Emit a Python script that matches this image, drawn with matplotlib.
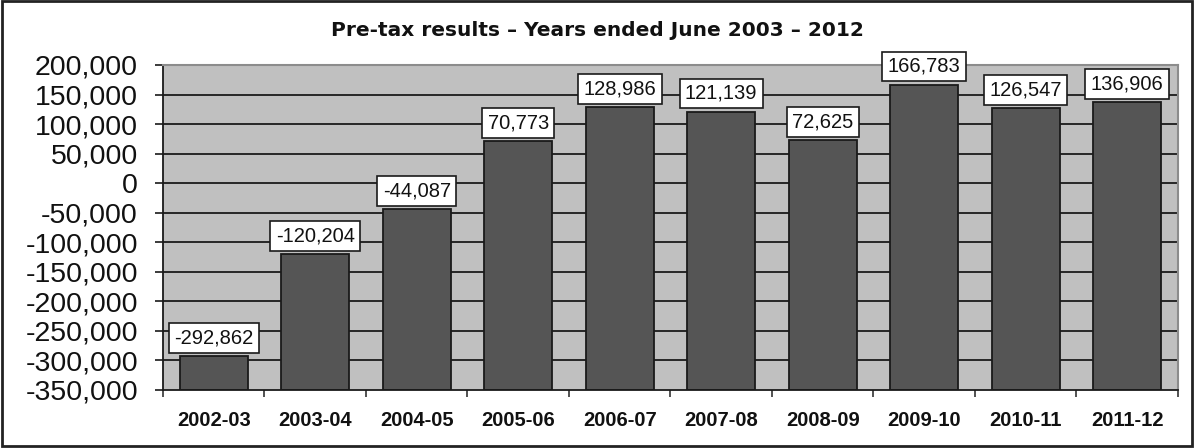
"""
Pre-tax results bar chart, years ended June 2003 - 2012.
"""

import matplotlib.pyplot as plt
from matplotlib.patches import Rectangle

# Data
seasons = ["2002-03", "2003-04", "2004-05", "2005-06", "2006-07",
           "2007-08", "2008-09", "2009-10", "2010-11", "2011-12"]
pretax = [-292862, -120204, -44087, 70773, 128986,
          121139, 72625, 166783, 126547, 136906]
y_ticks = list(range(-350000, 200001, 50000))

y_min, y_max = -350000, 200000

plt.rcParams['font.family'] = ['Liberation Sans', 'DejaVu Sans']

fig = plt.figure(figsize=(11.94, 4.48), dpi=100)
ax = fig.add_axes([0.1365, 0.1295, 0.8501, 0.7255])

ax.set_facecolor('#c0c0c0')

# Gridlines at interior ticks
for t in y_ticks[1:-1]:
    ax.axhline(t, color='#1a1a1a', linewidth=1.3, zorder=1)

x = list(range(len(seasons)))
heights = [v - y_min for v in pretax]
ax.bar(x, heights, bottom=y_min, width=0.67, color='#555555',
       edgecolor='#1a1a1a', linewidth=1.3, zorder=2)

for xi, v in zip(x, pretax):
    ax.annotate(f"{v:,}", xy=(xi, v), xytext=(0, 6.2), textcoords='offset points',
                ha='center', va='bottom', fontsize=14.5, color='#111111', zorder=4,
                bbox=dict(boxstyle='square,pad=0.27', facecolor='white',
                          edgecolor='#1a1a1a', linewidth=1.2))

ax.set_xlim(-0.5, len(seasons) - 0.5)
ax.set_ylim(y_min, y_max)

ax.set_yticks(y_ticks)
ax.set_yticklabels([f"{t:,}" for t in y_ticks], fontsize=20.5, color='#111111')
ax.tick_params(axis='y', direction='out', length=6, width=1.2, pad=12, color='#1a1a1a')

ax.set_xticks(x)
ax.set_xticklabels(seasons, fontsize=14.5, fontweight='bold', color='#111111')
ax.set_xticks([i - 0.5 for i in range(len(seasons) + 1)], minor=True)
ax.tick_params(axis='x', which='major', length=0, pad=15)
ax.tick_params(axis='x', which='minor', direction='out', length=5, width=1.2,
               color='#333333')

for side in ('left', 'bottom'):
    ax.spines[side].set_color('#1a1a1a')
    ax.spines[side].set_linewidth(1.3)
for side in ('top', 'right'):
    ax.spines[side].set_color('#8c8c8c')
    ax.spines[side].set_linewidth(1.5)

fig.text(0.5, 0.933, "Pre-tax results \u2013 Years ended June 2003 \u2013 2012",
         ha='center', va='center', fontsize=14.5, fontweight='bold', color='#111111',
         family=['DejaVu Sans'])

# Outer frame around the whole figure
fig.patches.append(Rectangle((0.002, 0.004), 0.996, 0.993, transform=fig.transFigure,
                             fill=False, edgecolor='#222222', linewidth=2))

fig.savefig('out.png', dpi=100)
